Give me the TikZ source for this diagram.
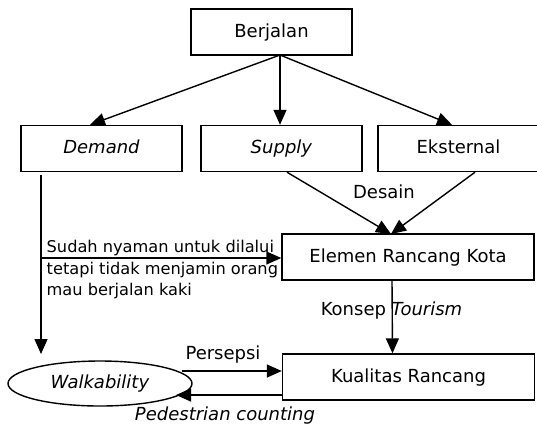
\documentclass[tikz,border=0pt]{standalone}
\usepackage{fontspec}
\setmainfont{DejaVu Sans}
\usetikzlibrary{arrows.meta, positioning, shapes.geometric}
\def\boxw{161bp}

\begin{document}
\begin{tikzpicture}[x=1bp, y=-1bp, line width=1.4bp, draw=black, -{Triangle[length=15bp,width=13bp]},
    font=\fontsize{18bp}{22bp}\selectfont]
    \tikzstyle{block}=[rectangle, draw=black, -, minimum width=\boxw, minimum height=46bp, inner sep=0pt,
        text height=14bp, text depth=4bp]
    \tikzstyle{wide block}=[block, minimum width=252bp]
    \tikzstyle{oval}=[ellipse, draw=black, -, minimum width=184bp, minimum height=45bp, inner sep=0pt,
        text height=14bp, text depth=4bp]
    \tikzstyle{annot}=[inner sep=0pt]

    \useasboundingbox (0,0) rectangle (537,429);

    \node[block] (berjalan) at (271.5,32) {Berjalan};

    \node[block] (demand) at (101.5,148.5) {\textit{Demand}};
    \node[block] (supply) at (281.5,148.5) {\textit{Supply}};
    \node[block] (eksternal) at (458.5,148.5) {Eksternal};

    \node[wide block] (elemen) at (408,257) {Elemen Rancang Kota};
    \node[wide block] (kualitas) at (408.5,377) {Kualitas Rancang};

    \node[oval] (walk) at (100,383.5) {\textit{Walkability}};

    % free ends of the connectors
    \coordinate (apex) at (280,55);
    \coordinate (dmtop) at (41,175);
    \coordinate (dmbranch) at (41,258);
    \coordinate (dmend) at (41,354);
    \coordinate (dstip) at (391,234);
    \coordinate (persepsi start) at (182,371);
    \coordinate (count end) at (176,395);

    \draw (apex) -- ([xshift=-11.5bp]demand.north);
    \draw (apex) -- (apex |- supply.north);
    \draw (apex) -- ([xshift=-6.5bp]eksternal.north);

    \draw ([xshift=5.5bp]supply.south) -- (dstip);
    \draw ([xshift=16.5bp]eksternal.south) -- (dstip);
    \node[annot] at (384,192) {Desain};

    \draw[-] (dmtop) -- (dmbranch);
    \draw (dmbranch) -- (dmend);
    \draw (dmbranch) -- (dmbranch -| elemen.west);
    \node[annot, anchor=north west, align=left, font=\fontsize{16.2bp}{21.5bp}\selectfont] (sudah) at (46,239.5)
        {Sudah nyaman untuk dilalui\\tetapi tidak menjamin orang\\mau berjalan kaki};

    \draw ([xshift=-16bp]elemen.south) -- ([xshift=-16bp]kualitas.north);
    \node[annot] at (391.5,311) {Konsep \textit{Tourism}};

    \draw (persepsi start) -- (persepsi start -| kualitas.west);
    \node[annot] at (223,355) {Persepsi};
    \draw (count end -| kualitas.west) -- (count end);
    \node[annot] at (225,416) {\textit{Pedestrian counting}};
\end{tikzpicture}
\end{document}
